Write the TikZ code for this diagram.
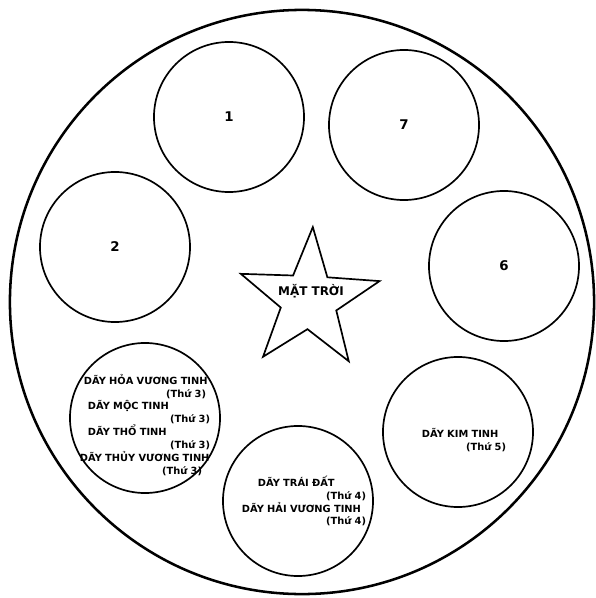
\documentclass[tikz,border=0pt]{standalone}
\usepackage{fontspec}
\newfontfamily\vnfont{DejaVu Sans}
\usepackage{tikz}
\usetikzlibrary{shapes.geometric}
\tikzset{
  rim/.style={draw, circle, line width=1.8pt, minimum size=14.6cm, inner sep=0pt},
  orb/.style={draw, circle, line width=1.2pt, minimum size=3.75cm, inner sep=0pt, font=\vnfont\bfseries\fontsize{9.5}{11}\selectfont},
  sun/.style={draw, star, star points=5, star point ratio=2.5, minimum size=3.65cm, inner sep=0pt, line width=1.2pt, shape border rotate=-3},
  sunlbl/.style={font=\vnfont\bfseries\fontsize{8.5}{10}\selectfont, inner sep=0pt},
  row/.style={font=\vnfont\bfseries\fontsize{7}{9.2}\selectfont, align=left, inner sep=0pt},
}
\newcommand{\thu}[2][0mm]{\hspace*{\fill}(Thứ #2)\hspace*{#1}\null}

\begin{document}
\begin{tikzpicture}[x=0.025cm, y=-0.025cm]
\useasboundingbox (0,0) rectangle (595,598);
\node[rim] (rim) at (302,302) {};
\node[orb] (orb1) at (229,117) {1};
\node[orb] (orb7) at (404,125) {7};
\node[orb] (orb2) at (115,247) {2};
\node[orb] (orb6) at (504,266) {6};
\node[orb] (orb3) at (145,418) {};
\node[orb] (orb4) at (298,501) {};
\node[orb] (orb5) at (458,432) {};
\node[sun] (sun) at (309,300) {};
\node[sunlbl] (sunlbl) at (311,291) {MẶT TRỜI};
% text inside the lower rings
\node[row, text width=3.25cm] (t3) at (145,425) {%
  \hspace*{1mm}DÃY HỎA VƯƠNG TINH\\ \thu[1mm]{3}\\
  \hspace*{2mm}DÃY MỘC TINH\\ \thu{3}\\
  \hspace*{2mm}DÃY THỔ TINH\\ \thu{3}\\
  DÃY THỦY VƯƠNG TINH\\ \thu[2mm]{3}};
\node[row, text width=3.1cm] (t4) at (304,501) {%
  \hspace*{4mm}DÃY TRÁI ĐẤT\\ \thu{4}\\
  DÃY HẢI VƯƠNG TINH\\ \thu{4}};
\node[row, text width=2.1cm] (t5) at (464,440) {%
  DÃY KIM TINH\\ \thu{5}};
\end{tikzpicture}
\end{document}
